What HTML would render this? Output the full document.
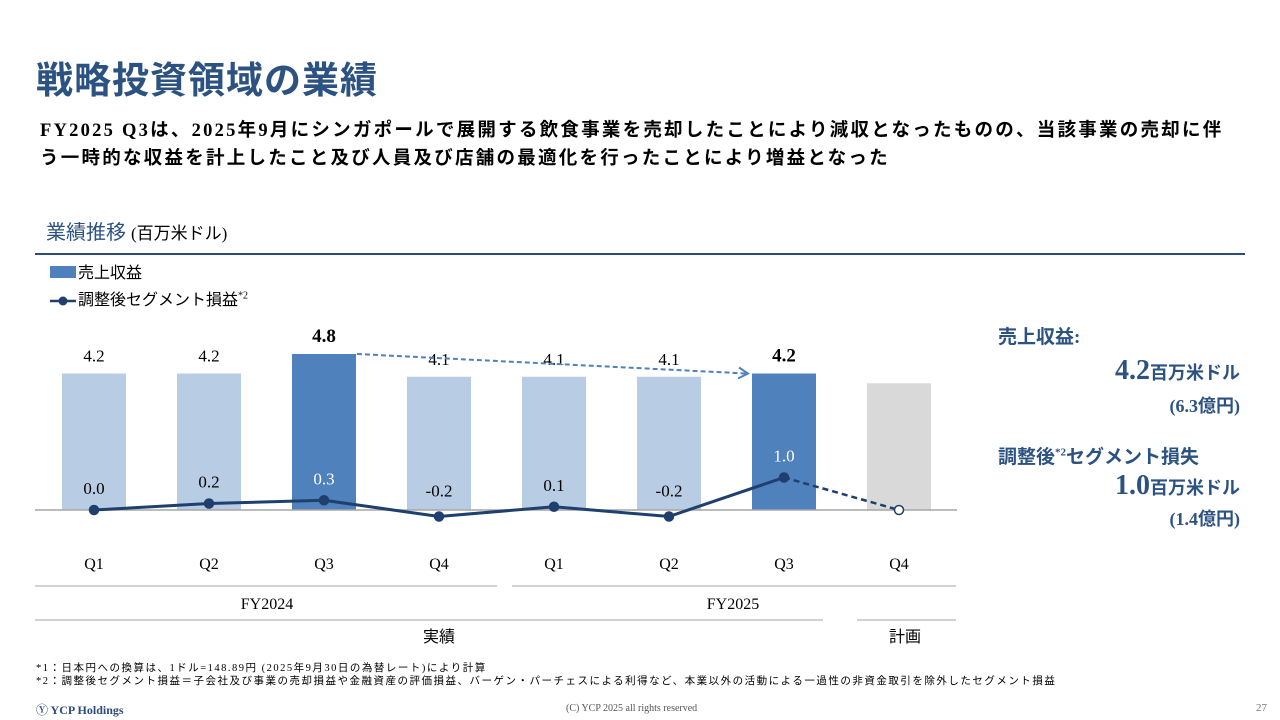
<!DOCTYPE html>
<html><head><meta charset="utf-8"><style>
body{margin:0;width:1280px;height:720px;background:#fff;position:relative;overflow:hidden;font-family:"Liberation Serif","Noto Serif CJK SC","Noto Sans CJK JP",serif;color:#000}
.a{position:absolute;white-space:nowrap}
.jp{font-family:"Liberation Serif","Noto Sans CJK JP",sans-serif}
</style></head><body>
<div class="a jp" style="left:36px;top:50px;font-size:37px;color:#2c5282;font-weight:bold;letter-spacing:1px">戦略投資領域の業績</div>
<div class="a jp" style="left:40px;top:117px;font-size:18.5px;font-weight:bold;line-height:28px;letter-spacing:2.25px">FY2025 Q3は、2025年9月にシンガポールで展開する飲食事業を売却したことにより減収となったものの、当該事業の売却に伴<br>う一時的な収益を計上したこと及び人員及び店舗の最適化を行ったことにより増益となった</div>
<div class="a jp" style="left:46px;top:216px;font-size:20px;color:#2c5282">業績推移 <span style="font-size:17px;color:#000">(百万米ドル)</span></div>
<div class="a" style="left:35px;top:253px;width:1210px;height:2px;background:#2c4a7a"></div>
<div class="a jp" style="left:50px;top:259px;font-size:16px"><span style="display:inline-block;width:26px;height:12px;background:#4f81bd;margin-right:2px"></span>売上収益</div>
<div class="a jp" style="left:50px;top:286px;font-size:16px"><svg width="28" height="12" style="vertical-align:middle"><line x1="0" y1="6" x2="26" y2="6" stroke="#1f3f6e" stroke-width="2.5"/><circle cx="13" cy="6" r="4.5" fill="#1f3f6e"/></svg>調整後セグメント損益<sup style="font-size:10px">*2</sup></div>
<svg class="a" style="left:0;top:0" width="1280" height="720" id="chart"></svg>
<div class="a jp" style="left:998px;top:322px;font-size:19px;color:#2c5282;font-weight:bold">売上収益:</div>
<div class="a" style="right:40px;top:355px;font-size:28px;color:#2c5282;font-weight:bold">4.2<span class="jp" style="font-size:18px">百万米ドル</span></div>
<div class="a" style="right:40px;top:392px;font-size:18px;color:#2c5282;font-weight:bold">(6.3<span class="jp">億円</span>)</div>
<div class="a jp" style="left:998px;top:442px;font-size:19px;color:#2c5282;font-weight:bold">調整後<sup style="font-size:11px">*2</sup>セグメント損失</div>
<div class="a" style="right:40px;top:470px;font-size:28px;color:#2c5282;font-weight:bold">1.0<span class="jp" style="font-size:18px">百万米ドル</span></div>
<div class="a" style="right:40px;top:505px;font-size:18px;color:#2c5282;font-weight:bold">(1.4<span class="jp">億円</span>)</div>
<div class="a jp" style="left:36px;top:662px;font-size:10.5px;line-height:13px;letter-spacing:1.5px">*1：日本円への換算は、1ドル=148.89円 (2025年9月30日の為替レート)により計算<br>*2：調整後セグメント損益＝子会社及び事業の売却損益や金融資産の評価損益、バーゲン・パーチェスによる利得など、本業以外の活動による一過性の非資金取引を除外したセグメント損益</div>
<div class="a" style="left:36px;top:701px;font-size:12px;color:#2c4a7a;font-weight:bold">Ⓨ YCP Holdings</div>
<div class="a" style="left:566px;top:703px;font-size:10px;color:#555">(C) YCP 2025 all rights reserved</div>
<div class="a" style="left:1256px;top:702px;font-size:11px;color:#777">27</div>
<script>
const quarters=["Q1","Q2","Q3","Q4","Q1","Q2","Q3","Q4"];
const revenue=[4.2,4.2,4.8,4.1,4.1,4.1,4.2,3.9];
const revenueLabels=["4.2","4.2","4.8","4.1","4.1","4.1","4.2",""];
const segment=[0.0,0.2,0.3,-0.2,0.1,-0.2,1.0,0.0];
const segmentLabels=["0.0","0.2","0.3","-0.2","0.1","-0.2","1.0",""];
const highlight=[false,false,true,false,false,false,true,false];
const NS="http://www.w3.org/2000/svg";
const svg=document.getElementById('chart');
const base=510,k=32.5;
const xc=i=>94+i*115;
const yv=v=>base-v*k;
function el(t,a,p){const e=document.createElementNS(NS,t);for(const n in a)e.setAttribute(n,a[n]);(p||svg).appendChild(e);return e;}
revenue.forEach((v,i)=>{
 const fill=i===7?"#d9d9d9":(highlight[i]?"#4f81bd":"#b8cce4");
 const r=el('rect',{x:xc(i)-32,y:yv(v),width:64,height:base-yv(v),fill});
 
 
 if(revenueLabels[i]){const t=el('text',{x:xc(i),y:yv(v)-12,'text-anchor':'middle','font-size':highlight[i]?19:17,'font-weight':highlight[i]?'bold':'normal','font-family':'Liberation Serif'});t.textContent=revenueLabels[i];
 
 }
});
el('line',{x1:35,y1:base,x2:957,y2:base,stroke:'#a6a6a6','stroke-width':1.5});
el('line',{x1:xc(2)+33,y1:yv(revenue[2]),x2:xc(6)-38,y2:yv(revenue[6]),stroke:'#4f81bd','stroke-width':2,'stroke-dasharray':'5,3'});
el('path',{d:`M${xc(6)-45} ${yv(revenue[6])-6} L${xc(6)-36} ${yv(revenue[6])} L${xc(6)-46} ${yv(revenue[6])+5}`,fill:'none',stroke:'#4f81bd','stroke-width':2});
let d="";for(let i=0;i<7;i++)d+=(i?"L":"M")+xc(i)+" "+yv(segment[i]);
const ln=el('path',{d,fill:'none',stroke:'#1f3f6e','stroke-width':3});


el('line',{x1:xc(6),y1:yv(segment[6]),x2:xc(7),y2:yv(segment[7]),stroke:'#1f3f6e','stroke-width':2.5,'stroke-dasharray':'6,4'});
segment.forEach((v,i)=>{
 const c=el('circle',{cx:xc(i),cy:yv(v),r:4.5,fill:i===7?'#fff':'#1f3f6e',stroke:'#1f3f6e','stroke-width':1.5});
 
 
 if(segmentLabels[i]){const t=el('text',{x:xc(i),y:yv(v)-16+(v<0?-4:0),'text-anchor':'middle','font-size':17,fill:highlight[i]?'#fff':'#000','font-family':'Liberation Serif'});t.textContent=segmentLabels[i];
 
 }
});
quarters.forEach((q,i)=>{const t=el('text',{x:xc(i),y:569,'text-anchor':'middle','font-size':16,'font-family':'Liberation Serif'});t.textContent=q;
 
 });
el('line',{x1:35,y1:586,x2:497,y2:586,stroke:'#a6a6a6'});
el('line',{x1:512,y1:586,x2:956,y2:586,stroke:'#a6a6a6'});
el('line',{x1:35,y1:620,x2:823,y2:620,stroke:'#a6a6a6'});
el('line',{x1:857,y1:620,x2:956,y2:620,stroke:'#a6a6a6'});
[["FY2024",267,609],["FY2025",733,609],["実績",439,642],["計画",905,642]].forEach(([s,x,y])=>{const t=el('text',{x,y,'text-anchor':'middle','font-size':16,'font-family':'Liberation Serif, Noto Sans CJK JP, serif'});t.textContent=s;
 
 });
</script>
</body></html>
